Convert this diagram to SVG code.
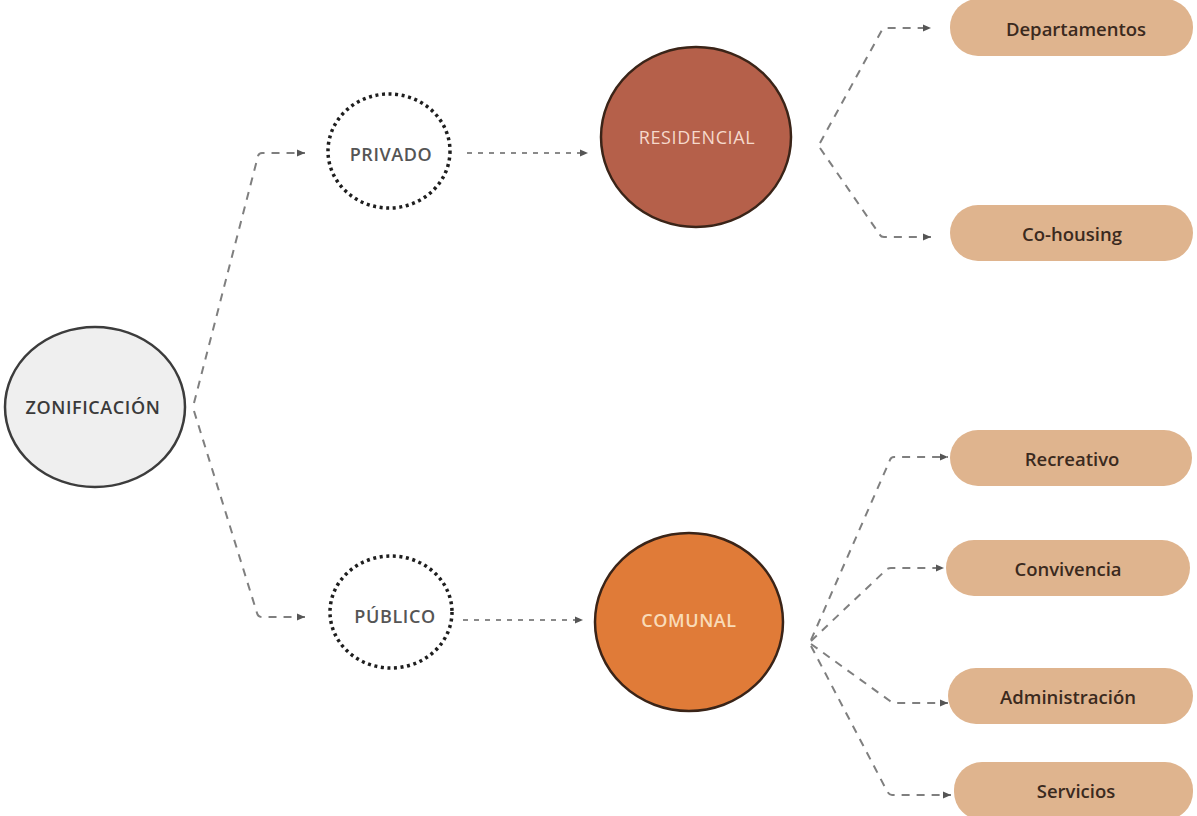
<svg xmlns="http://www.w3.org/2000/svg" width="1197" height="816" viewBox="0 0 1197 816">
<style>
  .lbl { font-family: "Open Sans", "Noto Sans", sans-serif; text-anchor: middle; dominant-baseline: central; }
  .cap { font-size: 18px; font-weight: 600; letter-spacing: 0.6px; }
  .pill { fill: #dfb48e; }
  .pilltxt { font-size: 18.5px; font-weight: 600; fill: #3b2a1e; }
  .dotc { fill: #ffffff; stroke: #1e1e1e; stroke-width: 3.5; stroke-dasharray: 3 3.6; }
  .con { fill: none; stroke: #7f7f7f; stroke-width: 2; stroke-dasharray: 8 7; }
  .dot { fill: none; stroke: #8a8a8a; stroke-width: 2; stroke-dasharray: 5 6; }
</style>
<defs>
  <marker id="ah" markerUnits="userSpaceOnUse" markerWidth="10" markerHeight="10" viewBox="0 0 10 10" refX="9" refY="5" orient="auto">
    <path d="M1,1.5 L9,5 L1,8.5 Z" fill="#555555"/>
  </marker>
</defs>
<rect width="1197" height="816" fill="#ffffff"/>

<g id="connectors">
  <path class="con" d="M194,403 L258,156 Q259,153 262,153 L305,153" marker-end="url(#ah)"/>
  <path class="con" d="M194,411 L257,613 Q258,617 262,617 L305,617" marker-end="url(#ah)"/>
  <path class="dot" d="M467,153 L588,153" marker-end="url(#ah)"/>
  <path class="dot" d="M463,620 L583,620" marker-end="url(#ah)"/>
  <path class="con" d="M820,143 L882,30 Q883,28 886,28 L931,28" marker-end="url(#ah)"/>
  <path class="con" d="M820,148 L880,235 Q881,237 884,237 L931,237" marker-end="url(#ah)"/>
  <path class="con" d="M811,640 L890,460 Q891,457 894,457 L948,457" marker-end="url(#ah)"/>
  <path class="con" d="M811,641 L886,570 Q888,568 891,568 L944,568" marker-end="url(#ah)"/>
  <path class="con" d="M811,644 L890,701 Q892,703 895,703 L948,703" marker-end="url(#ah)"/>
  <path class="con" d="M811,646 L887,791 Q889,795 892,795 L951,795" marker-end="url(#ah)"/>
</g>

<g id="zonificacion">
  <ellipse cx="95" cy="407" rx="90" ry="80" fill="#efefef" stroke="#3c3c3c" stroke-width="2.5"/>
  <text class="lbl cap" x="93" y="407" fill="#3a3a3a">ZONIFICACIÓN</text>
</g>

<g id="privado">
  <ellipse class="dotc" cx="389" cy="151" rx="61" ry="57"/>
  <text class="lbl cap" x="391" y="154" fill="#555555">PRIVADO</text>
</g>

<g id="publico">
  <ellipse class="dotc" cx="391" cy="612" rx="61" ry="56"/>
  <text class="lbl cap" x="395" y="616" fill="#555555">PÚBLICO</text>
</g>

<g id="residencial">
  <ellipse cx="696" cy="137" rx="95" ry="90" fill="#b5604a" stroke="#3a2418" stroke-width="2.5"/>
  <text class="lbl cap" x="697" y="137" fill="#f6d9cc" style="font-weight:500">RESIDENCIAL</text>
</g>

<g id="comunal">
  <ellipse cx="689" cy="622" rx="94" ry="89" fill="#e07b38" stroke="#3a2418" stroke-width="2.5"/>
  <text class="lbl cap" x="689" y="620" fill="#f9dbb8">COMUNAL</text>
</g>

<g id="departamentos">
  <rect class="pill" x="950" y="-1" width="243" height="57" rx="28"/>
  <text class="lbl pilltxt" x="1076" y="28">Departamentos</text>
</g>

<g id="cohousing">
  <rect class="pill" x="950" y="205" width="243" height="56" rx="28"/>
  <text class="lbl pilltxt" x="1072" y="233">Co-housing</text>
</g>

<g id="recreativo">
  <rect class="pill" x="950" y="430" width="242" height="56" rx="28"/>
  <text class="lbl pilltxt" x="1072" y="458">Recreativo</text>
</g>

<g id="convivencia">
  <rect class="pill" x="946" y="540" width="244" height="56" rx="28"/>
  <text class="lbl pilltxt" x="1068" y="568">Convivencia</text>
</g>

<g id="administracion">
  <rect class="pill" x="948" y="668" width="245" height="56" rx="28"/>
  <text class="lbl pilltxt" x="1068" y="696">Administración</text>
</g>

<g id="servicios">
  <rect class="pill" x="954" y="762" width="239" height="58" rx="28"/>
  <text class="lbl pilltxt" x="1076" y="790">Servicios</text>
</g>
</svg>
